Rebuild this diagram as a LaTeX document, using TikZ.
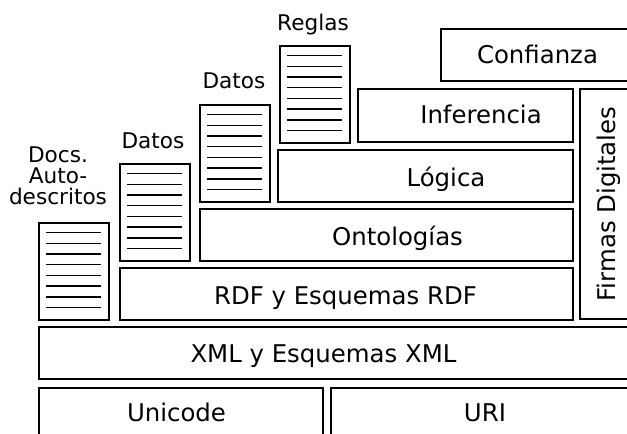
\documentclass[tikz,border=0pt]{standalone}
\usepackage{fontspec}
\setmainfont{DejaVu Sans}
\usetikzlibrary{fit}
\begin{document}
\begin{tikzpicture}[x=1pt,y=-1pt,
  layer/.style={draw, line width=1.4pt, inner sep=0pt},
  heavylayer/.style={layer, line width=2pt},
  docbox/.style={draw, line width=1.4pt, inner sep=0pt},
  docline/.style={line width=1.5pt},
  big/.style={font=\fontsize{24.4}{28}\selectfont, inner sep=0pt, anchor=base},
  small/.style={font=\fontsize{21.6}{24}\selectfont, inner sep=0pt, anchor=base}]
\useasboundingbox (0,0) rectangle (627,434);
\clip (0,0) rectangle (627,434);

% layered boxes of the stack
\node[layer, fit={(441,29) (636,81)}] (conf) {};
\node[layer, fit={(358,89) (573,142)}] (inf) {};
\node[layer, fit={(580,89) (632,319)}] (firm) {};
\node[layer, fit={(278,150) (573,202)}] (log) {};
\node[layer, fit={(200,209) (573,261)}] (ont) {};
\node[layer, fit={(120,268) (573,320)}] (rdf) {};
\node[heavylayer, fit={(39,327) (640,379)}] (xml) {};
\node[layer, fit={(39,388) (323,440)}] (uni) {};
\node[layer, fit={(331,388) (640,440)}] (uri) {};

% layer captions
\node[big] (tconf) at (537.5,63) {Confianza};
\node[big] (tinf) at (481,123.5) {Inferencia};
\node[big] (tlog) at (446,186) {Lógica};
\node[big] (tont) at (397.5,245) {Ontologías};
\node[big] (trdf) at (345.5,304) {RDF y Esquemas RDF};
\node[big] (txml) at (323.5,362) {XML y Esquemas XML};
\node[big] (tuni) at (176.5,421.5) {Unicode};
\node[big] (turi) at (485,421.5) {URI};
\node[big, rotate=90] (tfirm) at (615,204) {Firmas Digitales};

% document stacks
\node[docbox, fit={(39,223) (109,320)}] (d0) {};
\node[docbox, fit={(120,164) (190,261)}] (d1) {};
\node[docbox, fit={(200,105) (270,202)}] (d2) {};
\node[docbox, fit={(280,46) (350,143)}] (d3) {};
\foreach \d in {d0,d1,d2,d3}
  \foreach \i in {0,...,7}
    \draw[docline] ([xshift=8pt,yshift=-10.3pt-\i*10.7pt]\d.north west) -- ++(55,0);

% document captions
\node[small] (l0a) at (58,162) {Docs.};
\node[small] (l0b) at (58,183) {Auto-};
\node[small] (l0c) at (58,204) {descritos};
\node[small] (l1) at (153,148) {Datos};
\node[small] (l2) at (234,88) {Datos};
\node[small] (l3) at (313,30) {Reglas};
\end{tikzpicture}
\end{document}
